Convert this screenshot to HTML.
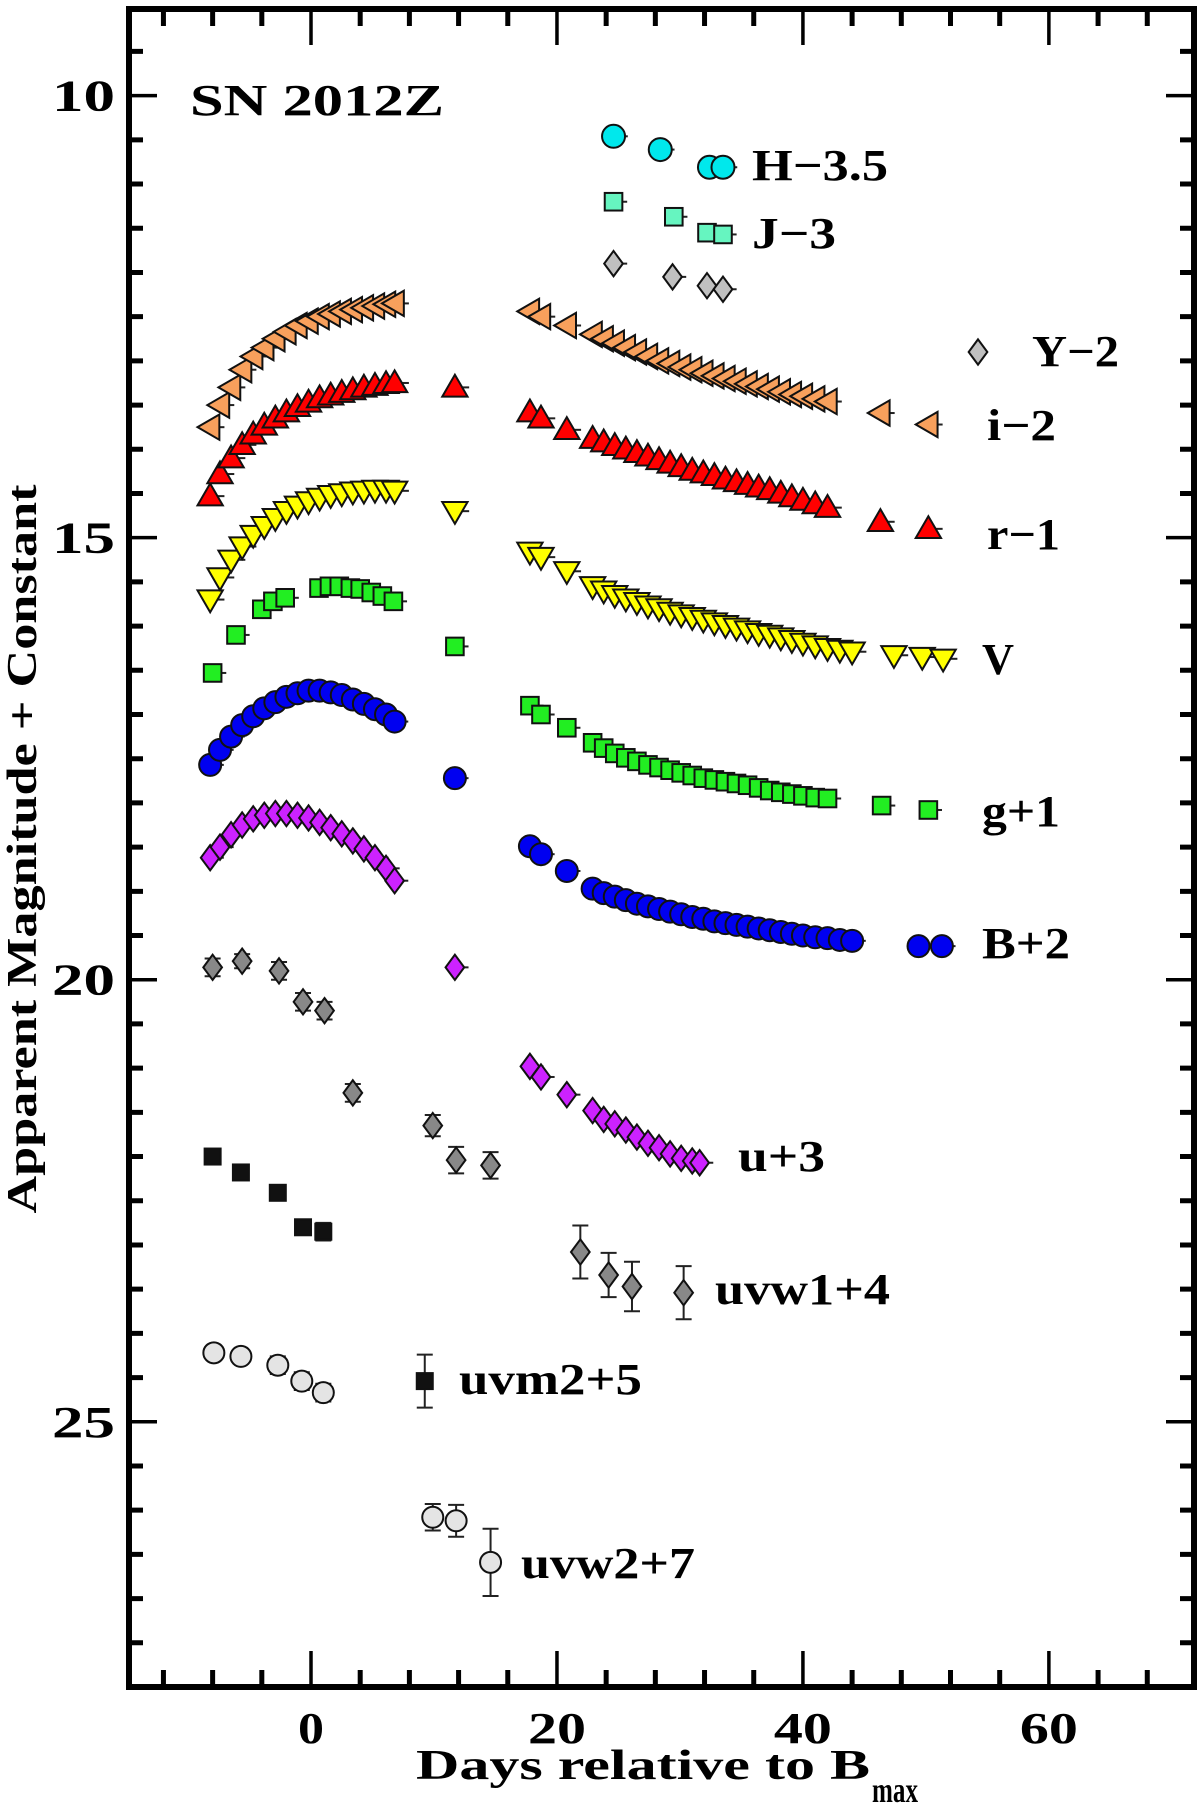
<!DOCTYPE html>
<html><head><meta charset="utf-8"><style>
body{margin:0;background:#fff}
svg{display:block}
text{font-family:"Liberation Serif",serif;font-weight:bold;fill:#000}
</style></head><body>
<svg id="chart" width="1200" height="1808" viewBox="0 0 1200 1808" xmlns="http://www.w3.org/2000/svg">
<g id="axes"></g>
<g id="marks"></g>
<g id="labels"></g>
</svg>
<script>
const earlyDays=[-8.2,-7.4,-6.5,-5.6,-4.7,-3.8,-2.9,-2.0,-1.1,-0.2,0.7,1.6,2.5,3.4,4.3,5.2,6.1,6.8];
const lateDays=[17.8,18.7,20.8,22.9,23.8,24.7,25.6,26.5,27.4,28.3,29.2,30.1,31.0,31.9,32.8,33.7,34.6,35.5,36.4,37.3,38.2,39.1,40.0,41.0,42.0];
const iDays=earlyDays.concat(lateDays,[46.3,50.2]);
const iMags=[13.75,13.5,13.3,13.1,12.95,12.85,12.75,12.67,12.6,12.55,12.5,12.47,12.44,12.42,12.4,12.38,12.36,12.35,
 12.44,12.5,12.6,12.7,12.75,12.8,12.85,12.9,12.95,13.0,13.03,13.07,13.1,13.14,13.17,13.2,13.23,13.26,13.29,13.32,13.35,13.38,13.4,13.43,13.46,13.59,13.72];
const rDays=earlyDays.concat([11.7],lateDays,[46.3,50.2]);
const rMags=[14.53,14.28,14.1,13.95,13.83,13.73,13.65,13.58,13.52,13.47,13.42,13.39,13.36,13.33,13.3,13.28,13.26,13.25,13.3,
 13.58,13.65,13.78,13.88,13.92,13.96,14.0,14.04,14.08,14.12,14.16,14.2,14.24,14.27,14.3,14.34,14.37,14.4,14.43,14.46,14.5,14.54,14.58,14.62,14.66,14.82,14.9];
const vDays=earlyDays.concat([11.7],lateDays,[43.0,44.0,47.4,49.7,51.4]);
const vMags=[15.7,15.45,15.25,15.1,14.97,14.87,14.78,14.7,14.64,14.59,14.55,14.52,14.5,14.48,14.47,14.46,14.46,14.47,14.7,
 15.16,15.22,15.38,15.55,15.6,15.65,15.69,15.73,15.77,15.8,15.84,15.87,15.9,15.93,15.96,15.99,16.02,16.05,16.08,16.1,16.13,16.16,16.19,16.22,16.25,16.27,16.29,16.33,16.35,16.37];
const gDays=[-8.0,-6.1,-4.0,-3.1,-2.1,0.65,1.5,2.3,3.2,4.0,4.9,5.8,6.7,11.7].concat(lateDays,[46.4,50.2]);
const gMags=[16.53,16.1,15.81,15.72,15.68,15.57,15.55,15.55,15.57,15.58,15.62,15.66,15.72,16.23,
 16.9,17.0,17.15,17.32,17.38,17.44,17.49,17.53,17.57,17.6,17.63,17.66,17.69,17.72,17.74,17.76,17.78,17.8,17.83,17.86,17.88,17.9,17.92,17.94,17.95,18.03,18.08];
const bDays=earlyDays.concat([11.7],lateDays,[43.0,44.0,49.4,51.3]);
const bMags=[17.57,17.4,17.25,17.12,17.02,16.93,16.86,16.8,16.76,16.73,16.73,16.75,16.78,16.83,16.88,16.94,17.0,17.08,17.72,
 18.49,18.58,18.77,18.97,19.02,19.06,19.1,19.14,19.17,19.2,19.23,19.26,19.29,19.31,19.34,19.36,19.38,19.4,19.42,19.44,19.46,19.48,19.5,19.52,19.53,19.55,19.56,19.62,19.62];
const uDays=earlyDays.concat([11.7,17.8,18.7,20.8,22.9,23.8,24.7,25.6,26.5,27.4,28.3,29.2,30.1,31.0,31.6]);
const uMags=[18.62,18.5,18.36,18.25,18.18,18.14,18.12,18.12,18.14,18.17,18.22,18.28,18.35,18.43,18.52,18.62,18.74,18.88,19.86,
 20.98,21.1,21.3,21.48,21.58,21.63,21.7,21.78,21.85,21.9,21.97,22.02,22.05,22.07];
const yDays=[24.6,29.4,32.2,33.5];
const yMags=[11.9,12.05,12.15,12.19];
const jDays=[24.6,29.5,32.2,33.5];
const jMags=[11.2,11.37,11.55,11.57];
const hDays=[24.6,28.4,32.4,33.5];
const hMags=[10.46,10.61,10.81,10.81];
const w1Days=[-8.0,-5.6,-2.6,-0.65,1.1,3.4,9.9,11.8,14.6,21.9,24.2,26.1,30.3];
const w1Mags=[19.86,19.79,19.9,20.25,20.35,21.28,21.65,22.04,22.1,23.08,23.34,23.47,23.54];
const w1Errs=[0.1,0.08,0.1,0.1,0.1,0.1,0.12,0.15,0.15,0.3,0.25,0.28,0.3];
const m2Days=[-8.0,-5.7,-2.7,-0.65,1.0,9.25];
const m2Mags=[22.0,22.18,22.41,22.8,22.85,24.54];
const m2Errs=[0.08,0.08,0.08,0.08,0.1,0.3];
const w2Days=[-7.9,-5.7,-2.7,-0.75,1.0,9.9,11.8,14.6];
const w2Mags=[24.22,24.26,24.36,24.54,24.67,26.08,26.12,26.59];
const w2Errs=[0.08,0.08,0.1,0.1,0.1,0.15,0.18,0.38];
const yTicks=[10,15,20,25];
const xTicks=[0,20,40,60];

const L=129,R=1194,T=9,B=1687,XMIN=-14.8,XMAX=71.8,YMIN=9.02,YMAX=28.0;
const xs=d=>L+(d-XMIN)*(R-L)/(XMAX-XMIN);
const ys=m=>T+(m-YMIN)*(B-T)/(YMAX-YMIN);
const NS='http://www.w3.org/2000/svg';
function mk(tag,attrs,parent){const e=document.createElementNS(NS,tag);for(const k in attrs)e.setAttribute(k,attrs[k]);parent.appendChild(e);return e;}
const axes=document.getElementById('axes'),marks=document.getElementById('marks'),labels=document.getElementById('labels');

let frame=mk('rect',{x:L,y:T,width:R-L,height:B-T,fill:'none',stroke:'#000','stroke-width':6},axes);


for(let m=9.5;m<=27.75;m+=0.5){
  const major=Math.abs(m%5)<1e-6; const len=major?28:14; const y=ys(m);
  let t=mk('path',{d:`M${L} ${y}H${L+len}M${R} ${y}H${R-len}`,stroke:'#000','stroke-width':major?3.5:5},axes);
  
  
}
yTicks.forEach(v=>{
  let t=mk('text',{x:L-14,y:ys(v)+15,'text-anchor':'end','font-size':44,textLength:63,lengthAdjust:'spacingAndGlyphs'},axes);t.textContent=v;
  
  
});
for(let d=-12;d<=68;d+=4){
  const major=d%20===0; const len=major?36:17; const x=xs(d);
  let t=mk('path',{d:`M${x} ${B}V${B-len}M${x} ${T}V${T+len}`,stroke:'#000','stroke-width':major?3.5:5},axes);
  
  
}
xTicks.forEach(v=>{
  const w=String(v).length===1?26:58;
  let t=mk('text',{x:xs(v),y:B+56,'text-anchor':'middle','font-size':44,textLength:w,lengthAdjust:'spacingAndGlyphs'},axes);t.textContent=v;
  
  
});
let xt=mk('text',{x:416,y:1779,'font-size':42,textLength:454,lengthAdjust:'spacingAndGlyphs'},axes);
xt.textContent='Days relative to B';


let xs2=mk('text',{x:872,y:1802,'font-size':36,textLength:46,lengthAdjust:'spacingAndGlyphs'},axes);
xs2.textContent='max';


let yt=mk('text',{x:0,y:0,'text-anchor':'middle','font-size':42,textLength:729,lengthAdjust:'spacingAndGlyphs',transform:'translate(36,849) rotate(-90)'},axes);
yt.textContent='Apparent Magnitude + Constant';



function shape(kind,cx,cy,s,fill,name){
  let e;const h=s/2;
  if(kind==='circle') e=mk('circle',{cx,cy,r:h},marks);
  else if(kind==='square') e=mk('rect',{x:cx-h*0.8,y:cy-h*0.8,width:s*0.8,height:s*0.8},marks);
  else if(kind==='diamond') e=mk('polygon',{points:`${cx},${cy-h*1.15} ${cx+h*0.85},${cy} ${cx},${cy+h*1.15} ${cx-h*0.85},${cy}`},marks);
  else if(kind==='up') e=mk('polygon',{points:`${cx},${cy-h*1.1} ${cx+h*1.1},${cy+h*0.8} ${cx-h*1.1},${cy+h*0.8}`},marks);
  else if(kind==='down') e=mk('polygon',{points:`${cx},${cy+h*1.1} ${cx+h*1.1},${cy-h*0.8} ${cx-h*1.1},${cy-h*0.8}`},marks);
  else if(kind==='left') e=mk('polygon',{points:`${cx-h*1.1},${cy} ${cx+h*0.8},${cy-h*1.1} ${cx+h*0.8},${cy+h*1.1}`},marks);
  e.setAttribute('fill',fill);e.setAttribute('stroke','#111');e.setAttribute('stroke-width',2);
  
  
}
function series(days,mags,kind,size,fill,name,errs){
  days.forEach((d,i)=>{
    const cx=xs(d),cy=ys(mags[i]);
    if(errs){const e=errs[i];
      let eb=mk('path',{d:`M${cx} ${ys(mags[i]-e)}V${ys(mags[i]+e)}M${cx-8} ${ys(mags[i]-e)}h16M${cx-8} ${ys(mags[i]+e)}h16`,stroke:'#222','stroke-width':2,fill:'none'},marks);
      
      
    } else {
      let eb=mk('path',{d:`M${cx} ${cy}h${size*0.62}`,stroke:'#222','stroke-width':2},marks);
      
      
    }
    shape(kind,cx,cy,size,fill,name+'-point');
  });
}
series(hDays,hMags,'circle',23,'#00e8ec','h-band');
series(jDays,jMags,'square',22,'#66f5c0','j-band');
series(yDays,yMags,'diamond',22,'#c0c0c0','y-band');
series(iDays,iMags,'left',23,'#f8a05c','i-band');
series(rDays,rMags,'up',23,'#ff0000','r-band');
series(vDays,vMags,'down',23,'#ffff00','v-band');
series(gDays,gMags,'square',22,'#22ee22','g-band');
series(bDays,bMags,'circle',22,'#0000f0','b-band');
series(uDays,uMags,'diamond',22,'#cc22ff','u-band');
series(w1Days,w1Mags,'diamond',22,'#888888','uvw1-band',w1Errs);
series(m2Days,m2Mags,'square',20,'#111111','uvm2-band',m2Errs);
series(w2Days,w2Mags,'circle',21,'#e4e4e4','uvw2-band',w2Errs);
shape('diamond',978,352,22,'#c0c0c0','y-band-legend-symbol');

const labs=[['SN 2012Z',190,115,'title',254],['H−3.5',752,180,'h-label',136],['J−3',752,248,'j-label',84],['Y−2',1032,366,'y-label',87],
['i−2',987,440,'i-label',69],['r−1',987,549,'r-label',73],['V',982,674,'v-label',32],['g+1',982,826,'g-label',78],['B+2',982,958,'b-label',88],
['u+3',738,1171,'u-label',87],['uvw1+4',715,1304,'uvw1-label',175],['uvm2+5',459,1394,'uvm2-label',183],['uvw2+7',521,1578,'uvw2-label',174]];
labs.forEach(([t,x,y,n,w])=>{
  let e=mk('text',{x,y,'font-size':44,textLength:w,lengthAdjust:'spacingAndGlyphs'},labels);e.textContent=t;
  
  
});
</script>
</body></html>
